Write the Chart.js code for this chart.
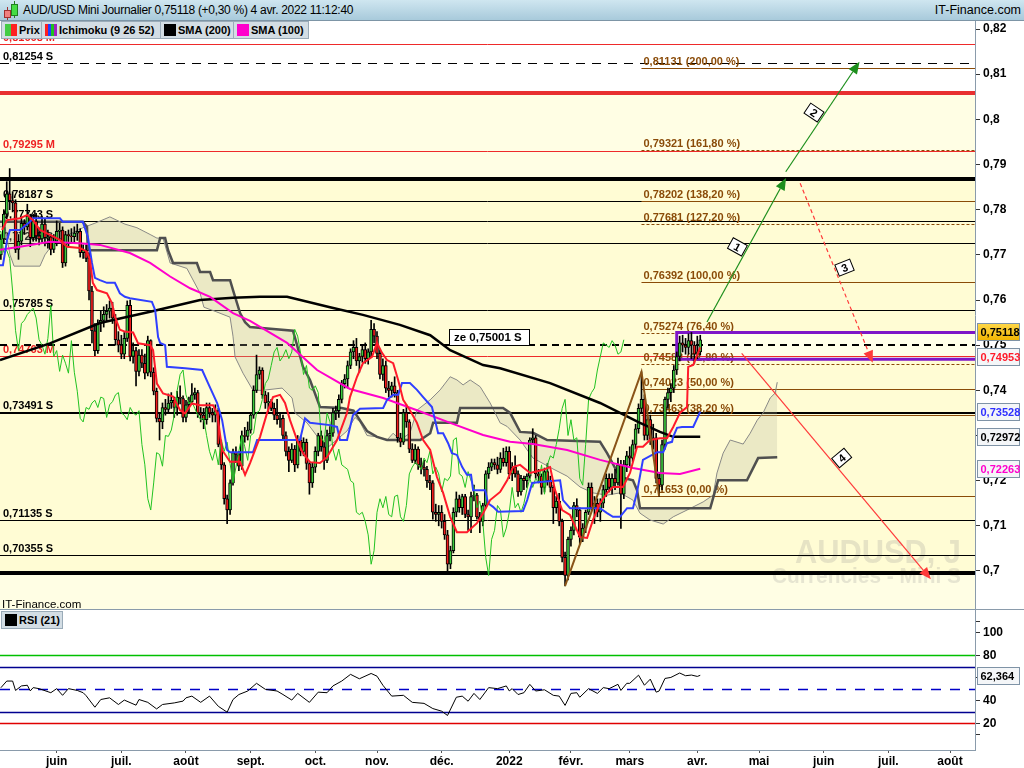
<!DOCTYPE html>
<html lang="fr"><head><meta charset="utf-8"><title>AUD/USD Mini Journalier</title>
<script src="https://cdn.jsdelivr.net/npm/chart.js@4.4.1/dist/chart.umd.min.js"></script>
<style>
html,body{margin:0;padding:0}
body{width:1024px;height:768px;overflow:hidden;background:#fff;position:relative;font-family:"Liberation Sans",Arial,sans-serif}
#hdr{position:absolute;left:0;top:0;width:1024px;height:21px;background:linear-gradient(#cfe6f0,#a8cadb);border-bottom:1px solid #7d95a6;box-sizing:border-box;z-index:3}
#hdr .t{position:absolute;left:23px;top:3px;font-size:12px;letter-spacing:-0.3px;color:#000;white-space:nowrap}
#hdr .b{position:absolute;right:3px;top:3px;font-size:12.5px;color:#000}
.c1{position:absolute;left:4px;top:10px;width:5px;height:6px;background:#f08080;border:1px solid #a03030}
.c1w{position:absolute;left:7px;top:7px;width:1px;height:13px;background:#a03030}
.c2{position:absolute;left:11px;top:4px;width:5px;height:10px;background:#44dd44;border:1px solid #208020}
.c2w{position:absolute;left:14px;top:1px;width:1px;height:17px;background:#208020}
.leg{position:absolute;top:21px;height:18px;background:#d3dde4;border:1px solid #9aabb8;box-sizing:border-box;font-weight:bold;font-size:11px;line-height:16px;white-space:nowrap;overflow:hidden;z-index:3;color:#000;padding:0}
.sw{display:inline-block;width:12px;height:12px;vertical-align:-2px;margin:0 2px 0 3px}
#main{position:absolute;left:0;top:20px}
#rsi{position:absolute;left:0;top:610px}
#sep{position:absolute;left:0;top:609px;width:1024px;height:1px;background:#8a9bab;z-index:2}
</style></head>
<body>
<div id="hdr"><div class="c1w"></div><div class="c1"></div><div class="c2w"></div><div class="c2"></div>
<span class="t">AUD/USD Mini Journalier 0,75118 (+0,30 %) 4 avr. 2022 11:12:40</span><span class="b">IT-Finance.com</span></div>
<div class="leg" style="left:1px;width:41px"><span class="sw" style="background:linear-gradient(90deg,#44cc44 50%,#ff2020 50%)"></span>Prix</div>
<div class="leg" style="left:41px;width:120px"><span class="sw" style="background:linear-gradient(90deg,#ff2020 25%,#2040ff 25%,#2040ff 50%,#20c020 50%,#20c020 75%,#a020c0 75%)"></span>Ichimoku (9 26 52)</div>
<div class="leg" style="left:160px;width:74px"><span class="sw" style="background:#000"></span>SMA (200)</div>
<div class="leg" style="left:233px;width:76px"><span class="sw" style="background:#ff00cc"></span>SMA (100)</div>
<div class="leg" style="left:1px;top:611px;width:62px"><span class="sw" style="background:#000"></span>RSI (21)</div>
<canvas id="main" width="1024" height="590"></canvas>
<div id="sep"></div>
<canvas id="rsi" width="1024" height="158"></canvas>
<script>
// ---------- DATA ----------
// trading-day index 0 = 5 mai 2021 ... 238 = 4 avr. 2022 (prices in 1/10000)
const monthIdx = [19,41,63,85,107,128,150,173,194,214,237,258,280,302,323];
const monthLabels = ['juin','juil.','août','sept.','oct.','nov.','déc.','2022','févr.','mars','avr.','mai','juin','juil.','août'];
const priceTicks = [0.70,0.71,0.72,0.73,0.74,0.75,0.76,0.77,0.78,0.79,0.80,0.81,0.82];
const rsiTicks = [10,20,40,60,80,100,110];

const opens = [
7700,7735,7790,7835,7820,7815,7712,7730,7770,7762, 7785,7738,7775,7742,7735,7768,7738,7740,7712,7730,
7752,7755,7682,7745,7742,7740,7748,7752,7705,7710, 7692,7620,7532,7488,7548,7555,7568,7575,7582,7560,
7512,7500,7480,7515,7588,7475,7488,7442,7478,7460, 7438,7510,7440,7398,7338,7330,7362,7358,7372,7378,
7362,7385,7382,7340,7368,7375,7390,7395,7350,7345, 7335,7362,7350,7345,7355,7280,7235,7160,7135,7195,
7262,7258,7232,7300,7298,7312,7345,7400,7435,7445, 7390,7372,7375,7360,7345,7335,7338,7300,7265,7245,
7270,7235,7290,7265,7285,7238,7195,7230,7265,7300, 7275,7245,7300,7305,7350,7355,7380,7415,7425,7455,
7485,7495,7465,7475,7490,7470,7485,7535,7520,7482, 7435,7455,7405,7400,7410,7395,7295,7285,7350,7330,
7270,7245,7270,7235,7230,7225,7200,7195,7130,7125, 7130,7110,7080,7015,7045,7130,7160,7140,7165,7125,
7120,7165,7168,7120,7110,7145,7215,7230,7240,7235, 7225,7250,7240,7265,7215,7230,7215,7175,7205,7200,
7210,7290,7295,7215,7210,7185,7220,7200,7185,7140, 7155,7110,7030,6990,7070,7090,7145,7135,7075,7095,
7130,7185,7140,7150,7130,7150,7180,7205,7185,7205, 7195,7235,7170,7235,7255,7250,7280,7315,7360,7380,
7300,7335,7290,7295,7205,7190,7280,7380,7395,7405, 7445,7475,7505,7500,7495,7510,7500,7480,7485];
const highs = [
7745,7800,7862,7891,7840,7822,7745,7782,7778,7812, 7790,7790,7792,7760,7785,7780,7755,7745,7745,7775,
7770,7762,7752,7755,7758,7762,7768,7758,7722,7722, 7705,7630,7548,7556,7575,7585,7590,7598,7595,7568,
7530,7522,7528,7598,7600,7505,7495,7490,7490,7480, 7520,7512,7450,7405,7350,7372,7380,7392,7395,7385,
7398,7410,7388,7378,7385,7415,7405,7400,7362,7360, 7372,7372,7360,7368,7360,7290,7240,7168,7202,7270,
7275,7265,7310,7318,7330,7350,7410,7478,7452,7450, 7398,7395,7380,7372,7380,7348,7345,7308,7275,7282,
7278,7300,7298,7295,7292,7242,7240,7275,7305,7310, 7285,7312,7320,7360,7365,7390,7422,7435,7465,7492,
7510,7515,7482,7500,7505,7492,7555,7548,7530,7490, 7470,7465,7420,7418,7430,7400,7305,7358,7368,7335,
7282,7280,7275,7250,7245,7232,7212,7200,7148,7145, 7145,7125,7090,7055,7140,7175,7168,7170,7170,7135,
7175,7190,7172,7130,7150,7222,7240,7248,7248,7252, 7262,7272,7275,7275,7240,7255,7222,7212,7210,7215,
7295,7315,7300,7225,7215,7228,7238,7210,7190,7165, 7172,7115,7042,7075,7098,7152,7160,7140,7105,7135,
7195,7195,7165,7160,7160,7190,7215,7215,7215,7225, 7250,7245,7245,7265,7275,7290,7325,7370,7441,7390,
7345,7345,7325,7305,7215,7290,7385,7405,7415,7455, 7485,7520,7522,7515,7525,7528,7508,7520,7522];
const lows = [
7690,7725,7780,7800,7795,7705,7690,7722,7745,7755, 7718,7730,7730,7722,7728,7720,7715,7700,7705,7720,
7735,7672,7675,7720,7725,7728,7732,7695,7692,7685, 7600,7505,7477,7482,7530,7540,7552,7560,7548,7500,
7485,7470,7470,7508,7465,7460,7410,7432,7450,7425, 7432,7430,7390,7330,7290,7315,7345,7350,7360,7340,
7345,7370,7330,7330,7352,7368,7380,7340,7330,7315, 7325,7340,7330,7330,7275,7225,7148,7105,7125,7190,
7240,7222,7225,7285,7290,7305,7338,7395,7425,7382, 7360,7350,7355,7335,7325,7318,7290,7255,7220,7240,
7220,7228,7255,7255,7225,7170,7185,7218,7255,7265, 7225,7240,7288,7298,7335,7340,7372,7405,7405,7448,
7470,7455,7440,7462,7460,7458,7475,7505,7470,7425, 7422,7395,7385,7385,7385,7285,7275,7280,7318,7262,
7240,7238,7225,7215,7210,7185,7180,7115,7110,7100, 7095,7070,6993,7005,7040,7120,7130,7125,7118,7090,
7085,7155,7115,7085,7100,7140,7205,7222,7225,7215, 7218,7232,7232,7205,7200,7208,7165,7168,7180,7185,
7205,7280,7205,7195,7170,7175,7190,7175,7105,7128, 7100,7020,6967,6980,7055,7080,7120,7060,7065,7085,
7125,7135,7105,7120,7110,7140,7165,7175,7170,7180, 7190,7094,7160,7220,7230,7242,7270,7305,7350,7290,
7290,7280,7270,7195,7165,7180,7270,7360,7375,7395, 7435,7465,7485,7480,7480,7470,7460,7470,7478];
const closes = [
7735,7790,7835,7820,7815,7712,7730,7770,7762,7785, 7738,7775,7742,7735,7768,7738,7740,7712,7730,7752,
7755,7682,7745,7742,7740,7748,7752,7705,7710,7692, 7620,7532,7488,7548,7555,7568,7575,7582,7560,7512,
7500,7480,7515,7588,7475,7488,7442,7478,7460,7438, 7510,7440,7398,7338,7330,7362,7358,7372,7378,7362,
7385,7382,7340,7368,7375,7390,7395,7350,7345,7335, 7362,7350,7345,7355,7280,7235,7160,7135,7195,7262,
7258,7232,7300,7298,7312,7345,7400,7435,7445,7390, 7372,7375,7360,7345,7335,7338,7300,7265,7245,7270,
7235,7290,7265,7285,7238,7195,7230,7265,7300,7275, 7245,7300,7305,7350,7355,7380,7415,7425,7455,7485,
7495,7465,7475,7490,7470,7485,7535,7520,7482,7435, 7455,7405,7400,7410,7395,7295,7285,7350,7330,7270,
7245,7270,7235,7230,7225,7200,7195,7130,7125,7130, 7110,7080,7015,7045,7130,7160,7140,7165,7125,7120,
7165,7168,7120,7110,7145,7215,7230,7240,7235,7225, 7250,7240,7265,7215,7230,7215,7175,7205,7200,7210,
7290,7295,7215,7210,7185,7220,7200,7185,7140,7155, 7110,7030,6990,7070,7090,7145,7135,7075,7095,7130,
7185,7140,7150,7130,7150,7180,7205,7185,7205,7195, 7235,7170,7235,7255,7250,7280,7315,7360,7380,7300,
7335,7290,7295,7205,7190,7280,7380,7395,7405,7445, 7475,7505,7500,7495,7510,7500,7480,7485,7512];

// indicator lines: [trading-day index, value]
const tenkanPts = [[0.4,0.7755],[2.1,0.7777],[6.5,0.7781],[8.9,0.7788],[10.9,0.7777],[13.3,0.7755],[16.7,0.7744],[20.1,0.7733],[22.5,0.7718],[26.9,0.7715],[29.3,0.7707],[30.3,0.7689],[31.3,0.7638],[32.7,0.7622],[36.1,0.7615],[37.8,0.7593],[38.8,0.7563],[40.5,0.7534],[42.2,0.7530],[45,0.7528],[46.7,0.7504],[50.8,0.7500],[51.8,0.7489],[53.1,0.7415],[55.2,0.7393],[58.6,0.7386],[61,0.7356],[62.7,0.7349],[65,0.7371],[67.8,0.7367],[72.2,0.7367],[73.6,0.7349],[75.3,0.7268],[78,0.7242],[81.4,0.7242],[83.1,0.7213],[84.8,0.7239],[88.2,0.7297],[90.6,0.7350],[92.6,0.7385],[95,0.7390],[96.7,0.7372],[98.4,0.7334],[100.8,0.7290],[102.8,0.7261],[105.2,0.7241],[108.6,0.7239],[111,0.7252],[114.4,0.7290],[117.8,0.7350],[118.8,0.7385],[121.2,0.7430],[123.2,0.7460],[126.3,0.7474],[128,0.7505],[129.7,0.7483],[131.4,0.7467],[133.5,0.7460],[135.2,0.7423],[136.9,0.7379],[139.2,0.7356],[141.6,0.7328],[143.7,0.7290],[146.1,0.7268],[148.4,0.7208],[150.5,0.7173],[152.9,0.7120],[155.2,0.7086],[158.6,0.7086],[162,0.7106],[164.1,0.7128],[166.5,0.7157],[169.9,0.7175],[172.3,0.7201],[174.3,0.7230],[176.7,0.7235],[180.1,0.7217],[184.5,0.7224],[186.9,0.7230],[188.6,0.7179],[191,0.7135],[193.7,0.7124],[197.1,0.7075],[199.5,0.7073],[201.5,0.7113],[203.9,0.7150],[206.3,0.7173],[208.3,0.7186],[211.7,0.7186],[214.1,0.7217],[216.5,0.7275],[218.5,0.7275],[220.9,0.7290],[224.3,0.7294],[226.7,0.7294],[228.8,0.7319],[231.1,0.7350],[233.5,0.7363],[233.9,0.7452],[235.6,0.7456],[238,0.74953]];
const kijunPts = [[-0.3,0.7677],[0.7,0.7677],[2.1,0.7733],[3.1,0.7755],[6.5,0.7755],[9.9,0.7773],[10.9,0.7781],[20.1,0.7781],[21.1,0.7773],[27.9,0.7773],[29.6,0.7740],[31,0.7682],[32,0.7649],[33.7,0.7644],[36.1,0.7638],[38.8,0.7638],[40.5,0.7615],[42.2,0.7607],[43.9,0.7604],[51.4,0.7596],[52.5,0.7578],[53.5,0.7518],[54.2,0.7505],[55.9,0.7500],[56.5,0.7452],[62.7,0.7449],[68.5,0.7445],[70.5,0.7416],[73.6,0.7372],[75.3,0.7334],[77,0.7268],[78,0.7263],[85.8,0.7263],[87.2,0.7290],[101.8,0.7290],[103.5,0.7338],[105.2,0.7328],[112,0.7323],[114.4,0.7319],[115.4,0.7290],[117.8,0.7290],[119.8,0.7345],[122.2,0.7359],[130.1,0.7361],[131.4,0.7379],[133.5,0.7390],[135.2,0.7390],[136.5,0.7416],[139.2,0.7416],[141.6,0.7401],[143.7,0.7385],[146.7,0.7363],[148.8,0.7305],[150.5,0.7305],[152.2,0.7283],[153.5,0.7261],[155.2,0.7257],[157,0.7230],[158.6,0.7213],[160,0.7213],[160.7,0.7179],[164.8,0.7179],[165.8,0.7150],[167.5,0.7142],[169.2,0.7131],[177.7,0.7133],[179.1,0.7157],[180.8,0.7195],[183.5,0.7197],[190.3,0.7201],[191.3,0.7157],[193.7,0.7139],[203.9,0.7139],[206.3,0.7128],[208.3,0.7120],[210.7,0.7120],[213.1,0.7139],[215.1,0.7139],[216.5,0.7175],[218.5,0.7246],[223.3,0.7263],[225.4,0.7263],[226.7,0.7283],[228.4,0.7286],[228.8,0.7297],[230.1,0.7317],[231.8,0.7319],[235.6,0.7319],[238,0.73528]];
const senkouAPts = [[-0.3,0.7762],[1.4,0.7762],[3.1,0.7700],[4.5,0.7675],[13.3,0.7675],[15,0.7700],[18.4,0.7730],[27.9,0.7760],[32,0.7770],[37.1,0.7784],[42.2,0.7768],[46.3,0.7760],[50.8,0.7745],[53.1,0.7737],[55.2,0.7737],[57.6,0.7682],[63.3,0.7670],[67.8,0.7615],[69.1,0.7584],[72.9,0.7575],[78,0.7562],[79,0.7520],[79.7,0.7474],[82.4,0.7438],[85.8,0.7400],[88.9,0.7400],[95.7,0.7405],[99.1,0.7383],[100.1,0.7350],[104.2,0.7328],[108.6,0.7290],[109.8,0.7270],[111.5,0.7275],[117.8,0.7310],[120.5,0.7340],[122.2,0.7330],[124.6,0.7300],[128,0.7297],[131.4,0.7290],[133.5,0.7305],[135.8,0.7290],[139.2,0.7305],[141.6,0.7356],[146.1,0.7379],[149.5,0.7401],[152.9,0.7430],[155.2,0.7423],[157.3,0.7412],[159.7,0.7423],[163.1,0.7408],[166.5,0.7372],[169.9,0.7328],[172.3,0.7320],[176.7,0.7290],[181.1,0.7250],[187.9,0.7226],[192.7,0.7210],[197.1,0.7186],[201.5,0.7173],[206.3,0.7168],[210.7,0.7173],[215.1,0.7157],[217.5,0.7128],[220.9,0.7113],[225.4,0.7104],[228.8,0.7120],[233.5,0.7135],[239,0.7153],[242.4,0.7168],[243.7,0.7217],[245.8,0.7261],[248.2,0.7290],[252.6,0.7281],[255,0.7305],[257.4,0.7334],[259.4,0.7350],[261.8,0.7383],[263.5,0.7394],[264.2,0.7418]];
const senkouBPts = [[-0.3,0.7773],[27.9,0.7773],[29.3,0.7762],[29.6,0.7710],[53.1,0.7710],[54.2,0.7737],[55.9,0.7737],[56.9,0.7710],[58.6,0.7682],[66.7,0.7682],[67.8,0.7662],[71.2,0.7662],[72.2,0.7644],[78,0.7644],[79,0.7622],[81.4,0.7571],[83.1,0.7551],[84.8,0.7540],[99.4,0.7532],[100.8,0.7500],[102.8,0.7452],[105.2,0.7423],[108.6,0.7363],[116,0.7361],[120,0.7355],[124.6,0.7310],[128,0.7297],[131.4,0.7290],[142.7,0.7290],[146.1,0.7305],[147.1,0.7328],[155.2,0.7328],[156.3,0.7361],[170.9,0.7361],[173.3,0.7350],[176.7,0.7308],[181.1,0.7306],[185.9,0.7290],[203.9,0.7286],[206.3,0.7261],[210.7,0.7208],[215.1,0.7201],[216.5,0.7179],[217.5,0.7139],[241.4,0.7139],[244.1,0.7201],[253.9,0.7201],[257.7,0.7250],[264.2,0.7252]];
const sma200Pts = [[-0.3,0.7467],[16.7,0.7504],[33.7,0.7549],[50.8,0.7574],[67.8,0.7600],[79,0.7605],[88.2,0.7607],[97.4,0.7607],[112,0.7584],[123.2,0.7567],[135.8,0.7545],[146.1,0.7522],[152.9,0.7489],[164.1,0.7456],[169.9,0.7449],[186.9,0.7416],[203.9,0.7372],[217.5,0.7328],[224.3,0.7308],[228.8,0.7297],[238,0.72972]];
const sma100Pts = [[-0.3,0.7711],[6.5,0.7718],[16.7,0.7729],[27.9,0.7725],[33.7,0.7722],[43.9,0.7704],[50.8,0.7682],[57.6,0.7652],[64.4,0.7626],[71.2,0.7607],[79,0.7571],[84.8,0.7554],[97.4,0.7505],[107.6,0.7445],[118.8,0.7403],[130.1,0.7383],[141.6,0.7356],[152.9,0.7328],[164.1,0.7301],[173.3,0.7286],[181.1,0.7281],[192.7,0.7268],[203.9,0.7246],[215.1,0.7228],[224.3,0.7217],[231.1,0.7215],[238,0.72263]];
const chikouShift = 26;

const rsiIdx = [0,2,4,5,7,9,10,11,13,17,19,21,23,26,28,29,32,34,37,40,42,46,47,50,53,55,59,62,63,65,68,71,74,77,79,81,84,87,90,94,96,99,101,105,108,111,113,116,119,122,126,128,130,133,137,140,144,147,150,152,155,157,159,161,163,166,169,172,173,174,176,178,180,182,185,188,190,192,194,196,197,200,203,205,207,210,211,213,214,217,219,221,223,224,226,228,231,233,235,237,238];
const rsiVal = [51.4,57.3,57.3,49,53,53.6,48.6,51.5,50.6,47,50.6,44.7,50.6,49,47,44.4,34.2,41,42.5,36.6,40.5,36,41,38.5,32.7,36.6,38,39.6,42.5,44,38.5,44,35,29.8,41,45.4,48.5,55.3,50,48.5,45.4,40.5,46.4,38.5,47.5,47,53,57.3,63.2,59.3,64,61.6,53.6,44,44.7,38.5,37.6,33,30.7,26.9,43,44,39.5,46.4,41,51.5,50.6,53,48.6,50.6,45.4,47,54.4,48.5,49.6,44.7,44,35.8,46.4,47,43,50.6,46.4,51.5,50.6,54.4,49,55.3,55.3,62.5,53.6,59,47.5,48.5,59.6,60.5,64.4,62,62.6,61.4,62.364];
const rsiLevels = [80,70,50,30,20];

// levels & annotations
const supportLevels = [0.81254,0.78187,0.77743,0.77255,0.75785,0.73491,0.71135,0.70355];
const pivotLevels = [0.81668,0.79295,0.74763];
const bandLevels = [0.8059,0.7867,0.6995];
const zeLevel = 0.75001, zeIdx = 152.5;
const zoneRange = [0.74687,0.75282], zoneStartIdx = 230;
const fibValues = [0.81131,0.79321,0.78202,0.77681,0.76392,0.75274,0.74583,0.74023,0.73463,0.71653];
const fibPct = ['200,00','161,80','138,20','127,20','100,00','76,40','61,80','50,00','38,20','0,00'];
const fibStartIdx = 218;
const fibPathIdx = [192,218,224];
const fibPathVal = [0.6967,0.7441,0.71653];
const arrowFrom = [[240.3,0.75513],[267.1,0.78840],[272.0,0.78583],[252.1,0.74820]];
const arrowTo = [[267.2,0.78700],[292.2,0.81275],[296.7,0.74612],[316.5,0.69816]];
const arrowNames = ['1','2','3','4'];
const tagValues = [0.75118,0.74953,0.73528,0.72972,0.72263];
const rsiLast = 62.364;

// ---------- RENDER ----------
const FONT = '"Liberation Sans", Arial, sans-serif';
Chart.defaults.font.family = FONT;
const X_MIN = -0.295, X_MAX = 331.5;
const P_MIN = 0.691365, P_MAX = 0.821993;
const R_MIN = -3.58, R_MAX = 120.04;
const pip = v => v / 10000;
const fmt = (v, d) => v.toFixed(d).replace('.', ',');
const toXY = pts => pts.map(p => ({x: p[0], y: p[1]}));
const lineDS = (pts, color, width, order, extra) => Object.assign({type:'line', data: toXY(pts), borderColor: color, borderWidth: width, pointRadius: 0, tension: 0, fill: false, order}, extra || {});

const mainDeco = {
  id: 'mainDeco',
  beforeDatasetsDraw(chart) {
    const {ctx, chartArea: a, scales: {x, y}} = chart;
    const X = v => x.getPixelForValue(v), Y = v => y.getPixelForValue(v);
    ctx.save();
    ctx.beginPath(); ctx.rect(a.left, a.top, a.width, a.height); ctx.clip();
    const y0 = Y(bandLevels[0]), y1 = Y(bandLevels[1]), y2 = Y(bandLevels[2]);
    ctx.fillStyle = '#ffffff'; ctx.fillRect(a.left, a.top, a.width, y0 - a.top);
    ctx.fillStyle = '#fffee4'; ctx.fillRect(a.left, y0, a.width, y1 - y0);
    ctx.fillStyle = '#fffcd4'; ctx.fillRect(a.left, y1, a.width, y2 - y1);
    ctx.fillStyle = '#fffee4'; ctx.fillRect(a.left, y2, a.width, a.bottom - y2);
    ctx.fillStyle = 'rgba(140,140,140,0.22)'; ctx.textBaseline = 'alphabetic'; ctx.textAlign = 'left';
    const wm = (t, size, xr, yb, w) => { ctx.save(); ctx.font = 'bold ' + size + 'px ' + FONT; const mw = ctx.measureText(t).width; ctx.translate(xr - w, yb); ctx.scale(w / mw, 1); ctx.fillText(t, 0, 0); ctx.restore(); };
    wm('AUDUSD, J', 33, 961, 543, 166);
    wm('Currencies - Mini S', 22, 961, 563, 189);
    const zx = X(zoneStartIdx), zt = Y(zoneRange[1]), zb = Y(zoneRange[0]);
    ctx.fillStyle = 'rgba(255,255,236,0.85)'; ctx.fillRect(zx, zt, a.right - zx, zb - zt);
    ctx.font = 'bold 11px ' + FONT; ctx.textBaseline = 'alphabetic';
    const hline = (v, color, w, dash, x0) => {
      const yy = Math.round(Y(v)) + (Math.round(w) % 2 ? 0.5 : 0);
      ctx.beginPath(); ctx.setLineDash(dash || []); ctx.strokeStyle = color; ctx.lineWidth = w;
      ctx.moveTo(x0 === undefined ? a.left : x0, yy); ctx.lineTo(a.right, yy); ctx.stroke(); ctx.setLineDash([]);
      return yy;
    };
    pivotLevels.forEach(v => { const yy = hline(v, '#ee2a2a', 1); ctx.fillStyle = '#ee2222'; ctx.fillText(fmt(v, 5) + ' M', 3, yy - 4); });
    supportLevels.forEach((v, i) => {
      const yy = hline(v, '#000', (i === 5) ? 2 : 1, i === 0 ? [9, 7] : []);
      ctx.fillStyle = '#000'; ctx.fillText(fmt(v, 5) + ' S', 3, yy - 4);
    });
    hline(zeLevel, '#000', 2, [7, 5]);
    hline(bandLevels[0], '#e83030', 4);
    hline(bandLevels[1], '#000', 4);
    hline(bandLevels[2], '#000', 4);
    const fx = X(fibStartIdx);
    const fibDash = [false,true,false,true,false,true,true,false,false,false];
    fibValues.forEach((v, i) => {
      const yy = hline(v, '#8a4b08', 1, fibDash[i] ? [3, 2] : [], fx);
      ctx.fillStyle = '#8a4b08'; ctx.fillText(fmt(v, 5) + ' (' + fibPct[i] + ' %)', fx + 2, yy - 4);
    });
    ctx.strokeStyle = '#7d16c8'; ctx.lineWidth = 3;
    ctx.beginPath(); ctx.moveTo(a.right + 3, zt); ctx.lineTo(zx, zt); ctx.lineTo(zx, zb); ctx.lineTo(a.right + 3, zb); ctx.stroke();
    ctx.restore();
  },
  afterDatasetsDraw(chart) {
    const {ctx, chartArea: a, scales: {x, y}} = chart;
    const X = v => x.getPixelForValue(v), Y = v => y.getPixelForValue(v);
    ctx.save();
    ctx.beginPath(); ctx.rect(a.left, a.top, a.width, a.height); ctx.clip();
    const colors = ['#1d8f1d', '#1d8f1d', '#ff3a3a', '#ff3a3a'];
    const dashes = [[], [], [4, 3], []];
    arrowFrom.forEach((f, i) => {
      const x0 = X(f[0]), y0 = Y(f[1]), x1 = X(arrowTo[i][0]), y1 = Y(arrowTo[i][1]);
      const ang = Math.atan2(y1 - y0, x1 - x0), hl = 12, hw = 5;
      const bx = x1 - hl * Math.cos(ang), by = y1 - hl * Math.sin(ang);
      ctx.strokeStyle = colors[i]; ctx.fillStyle = colors[i]; ctx.lineWidth = 1.2; ctx.setLineDash(dashes[i]);
      ctx.beginPath(); ctx.moveTo(x0, y0); ctx.lineTo(bx, by); ctx.stroke(); ctx.setLineDash([]);
      ctx.beginPath(); ctx.moveTo(x1, y1);
      ctx.lineTo(bx - hw * Math.sin(ang), by + hw * Math.cos(ang));
      ctx.lineTo(bx + hw * Math.sin(ang), by - hw * Math.cos(ang)); ctx.closePath(); ctx.fill();
      const dx = x1 - x0, dy = y1 - y0, L = Math.hypot(dx, dy);
      const mx = x0 + dx * 0.49 + dy / L * 9.5, my = y0 + dy * 0.49 - dx / L * 9.5;
      const rot = ang < 0 ? ang + Math.PI / 2 : ang - Math.PI / 2;
      ctx.save(); ctx.translate(mx, my); ctx.rotate(rot);
      ctx.fillStyle = '#fff'; ctx.fillRect(-8, -6, 16, 12);
      ctx.strokeStyle = '#000'; ctx.lineWidth = 1; ctx.strokeRect(-8, -6, 16, 12);
      ctx.fillStyle = '#000'; ctx.font = 'bold 11px ' + FONT; ctx.textAlign = 'center'; ctx.textBaseline = 'middle';
      ctx.fillText(arrowNames[i], 0, 1); ctx.restore();
    });
    ctx.font = 'bold 11.5px ' + FONT; ctx.textAlign = 'left'; ctx.textBaseline = 'middle';
    const zt = 'ze ' + fmt(zeLevel, 5) + ' S';
    const zw = Math.round(ctx.measureText(zt).width + 12);
    const zbx = Math.round(X(zeIdx)), zby = Math.round(Y(zeLevel));
    ctx.fillStyle = '#fff'; ctx.fillRect(zbx, zby - 16, zw, 16);
    ctx.strokeStyle = '#000'; ctx.lineWidth = 1; ctx.strokeRect(zbx + 0.5, zby - 15.5, zw, 16);
    ctx.fillStyle = '#000'; ctx.fillText(zt, zbx + 5, zby - 7);
    ctx.font = '11.5px ' + FONT; ctx.textBaseline = 'alphabetic'; ctx.fillText('IT-Finance.com', 2, a.bottom - 2);
    ctx.restore();
  },
  afterDraw(chart) {
    const {ctx, chartArea: a, scales: {y}} = chart;
    const tagColors = ['#000', '#ff1a2a', '#3030ff', '#000', '#ff00cc'];
    const items = tagValues.map((v, i) => ({v, i, yc: y.getPixelForValue(v)}));
    const m = (items[0].yc + items[1].yc) / 2; items[0].yc = m - 12.5; items[1].yc = m + 12.5;
    ctx.save(); ctx.font = 'bold 11px ' + FONT;
    items.forEach(it => {
      const x0 = a.right + 2.5, h = 17, w = 42, top = Math.round(it.yc - h / 2) + 0.5;
      if (it.i === 0) { const g = ctx.createLinearGradient(0, top, 0, top + h); g.addColorStop(0, '#ffd84a'); g.addColorStop(1, '#f0b400'); ctx.fillStyle = g; }
      else ctx.fillStyle = '#f4f6f8';
      ctx.fillRect(x0, top, w, h);
      ctx.strokeStyle = '#7f93a6'; ctx.lineWidth = 1; ctx.strokeRect(x0, top, w, h);
      ctx.fillStyle = tagColors[it.i]; ctx.textAlign = 'left'; ctx.textBaseline = 'middle';
      ctx.fillText(fmt(it.v, 5), x0 + 3, top + h / 2 + 1);
    });
    ctx.restore();
  }
};

new Chart(document.getElementById('main'), {
  type: 'line',
  data: { datasets: [
    lineDS(senkouAPts, '#858585', 1, 20),
    lineDS(senkouBPts, '#4f4f4f', 2.5, 19, {fill: '-1', backgroundColor: 'rgba(175,175,150,0.25)'}),
    {type: 'bar', data: closes.map((c, i) => ({x: i, y: [pip(lows[i]), pip(highs[i])]})), backgroundColor: '#000', barThickness: 1, grouped: false, order: 14},
    {type: 'bar', data: closes.map((c, i) => ({x: i, y: [pip(opens[i]), pip(c)]})),
      backgroundColor: closes.map((c, i) => c >= opens[i] ? '#3cc83c' : '#f01c1c'),
      borderColor: '#000', borderWidth: 1, borderSkipped: false, barThickness: 3, grouped: false, order: 13},
    {type: 'line', data: closes.map((c, i) => ({x: i - chikouShift, y: pip(c)})), borderColor: '#22c322', borderWidth: 1, pointRadius: 0, tension: 0, fill: false, order: 12},
    lineDS(sma200Pts, '#000', 2.5, 6),
    lineDS(sma100Pts, '#ff00cc', 2, 5),
    lineDS(kijunPts, '#2f3fff', 2, 4),
    lineDS(tenkanPts, '#ff1a2a', 2, 3),
    {type: 'line', data: fibPathIdx.map((v, i) => ({x: v, y: fibPathVal[i]})), borderColor: '#8a5418', borderWidth: 2, pointRadius: 0, tension: 0, fill: false, order: 2}
  ]},
  options: {
    responsive: false, animation: false, devicePixelRatio: 1, layout: {padding: 0},
    plugins: {legend: {display: false}, tooltip: {enabled: false}},
    scales: {
      x: {type: 'linear', min: X_MIN, max: X_MAX, offset: false, display: false},
      y: {type: 'linear', position: 'right', min: P_MIN, max: P_MAX,
        afterBuildTicks: s => { s.ticks = priceTicks.map(v => ({value: v})); },
        ticks: {callback: v => String(Math.round(v * 100) / 100).replace('.', ','), color: '#000', font: {size: 12, weight: 'bold'}, padding: 3},
        grid: {drawOnChartArea: false, tickLength: 5, color: '#333'},
        border: {color: '#8a9bab'},
        afterFit: s => { s.width = 49; s.paddingTop = 0; s.paddingBottom = 0; }
      }
    }
  },
  plugins: [mainDeco]
});

const rsiDeco = {
  id: 'rsiDeco',
  beforeDatasetsDraw(chart) {
    const {ctx, chartArea: a, scales: {y}} = chart;
    const cols = ['#00c000', '#000090', '#0000c8', '#000090', '#e00000'];
    ctx.save();
    rsiLevels.forEach((v, i) => {
      const yy = Math.round(y.getPixelForValue(v)) + 0.5;
      ctx.beginPath(); ctx.strokeStyle = cols[i]; ctx.lineWidth = 1.5; ctx.setLineDash(v === 50 ? [10, 9] : []);
      ctx.moveTo(a.left, yy); ctx.lineTo(a.right, yy); ctx.stroke();
    });
    ctx.restore();
  },
  afterDraw(chart) {
    const {ctx, chartArea: a, scales: {y}} = chart;
    ctx.save(); ctx.font = 'bold 11px ' + FONT;
    const h = 17, w = 42, x0 = a.right + 2.5, top = Math.round(y.getPixelForValue(rsiLast) - h / 2) + 0.5;
    ctx.fillStyle = '#f4f6f8'; ctx.fillRect(x0, top, w, h);
    ctx.strokeStyle = '#7f93a6'; ctx.lineWidth = 1; ctx.strokeRect(x0, top, w, h);
    ctx.fillStyle = '#000'; ctx.textBaseline = 'middle'; ctx.fillText(fmt(rsiLast, 3), x0 + 3, top + h / 2 + 1);
    ctx.restore();
  }
};

new Chart(document.getElementById('rsi'), {
  type: 'line',
  data: { datasets: [{data: rsiIdx.map((v, i) => ({x: v, y: rsiVal[i]})), borderColor: '#000', borderWidth: 1, pointRadius: 0, tension: 0, fill: false}] },
  options: {
    responsive: false, animation: false, devicePixelRatio: 1, layout: {padding: 0},
    plugins: {legend: {display: false}, tooltip: {enabled: false}},
    scales: {
      x: {type: 'linear', min: X_MIN, max: X_MAX, offset: false, position: 'bottom',
        afterBuildTicks: s => { s.ticks = monthIdx.map(v => ({value: v})); },
        ticks: {autoSkip: false, maxRotation: 0, callback: (v, i) => monthLabels[i], color: '#000', font: {size: 12, weight: 'bold'}, padding: 1},
        grid: {drawOnChartArea: false, tickLength: 3, color: '#555'},
        border: {color: '#8a9bab'},
        afterFit: s => { s.height = 18; s.paddingLeft = 0; s.paddingRight = 0; }
      },
      y: {type: 'linear', position: 'right', min: R_MIN, max: R_MAX,
        afterBuildTicks: s => { s.ticks = rsiTicks.map(v => ({value: v})); },
        ticks: {callback: v => (v === 10 || v === 110) ? '' : String(v), color: '#000', font: {size: 12, weight: 'bold'}, padding: 3},
        grid: {drawOnChartArea: false, tickLength: 5, color: '#333'},
        border: {color: '#8a9bab'},
        afterFit: s => { s.width = 49; s.paddingTop = 0; s.paddingBottom = 0; }
      }
    }
  },
  plugins: [rsiDeco]
});
</script>
</body></html>
